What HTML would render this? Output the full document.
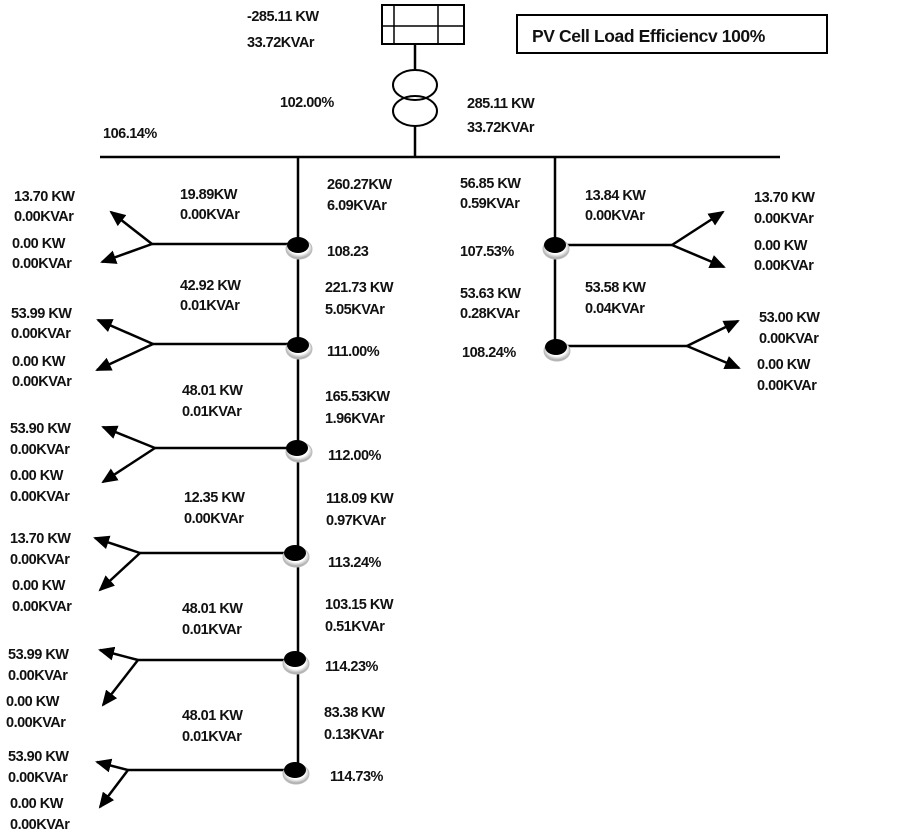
<!DOCTYPE html>
<html><head><meta charset="utf-8"><style>
html,body{margin:0;padding:0;background:#fff;}
svg text{font-family:"Liberation Sans",sans-serif;font-weight:bold;font-size:14.5px;fill:#111;letter-spacing:-0.5px;}
</style></head><body>
<svg width="902" height="835" viewBox="0 0 902 835" xmlns="http://www.w3.org/2000/svg">
<defs>
<marker id="a" markerWidth="16" markerHeight="14" refX="14" refY="7" orient="auto" markerUnits="userSpaceOnUse">
<path d="M0,0 L16,7 L0,14 z" fill="#000"/></marker>
<radialGradient id="g" cx="50%" cy="40%" r="60%"><stop offset="0.6" stop-color="#fff"/><stop offset="1" stop-color="#999"/></radialGradient>
</defs>
<g stroke="#000" stroke-width="2.5" fill="none">
<rect x="382" y="5" width="82" height="39" stroke-width="2"/>
<line x1="382" y1="26" x2="464" y2="26" stroke-width="1.5"/>
<line x1="394" y1="5" x2="394" y2="44" stroke-width="1.5"/>
<line x1="438" y1="5" x2="438" y2="44" stroke-width="1.5"/>
<line x1="415" y1="44" x2="415" y2="70"/>
<ellipse cx="415" cy="85" rx="22" ry="15" stroke-width="2"/>
<ellipse cx="415" cy="111" rx="22" ry="15" stroke-width="2"/>
<line x1="415" y1="126" x2="415" y2="157"/>
<line x1="100" y1="157" x2="780" y2="157"/>
<line x1="298" y1="157" x2="298" y2="770"/>
<line x1="555" y1="157" x2="555" y2="346"/>
<rect x="517" y="15" width="310" height="38" stroke-width="2"/>
</g>
<g stroke="#000" stroke-width="2.5" fill="none">
<path d="M298,244 H152"/>
<path d="M298,344 H153"/>
<path d="M298,448 H155"/>
<path d="M298,553 H140"/>
<path d="M298,660 H138"/>
<path d="M298,770 H128"/>
<path d="M555,245 H672"/>
<path d="M555,346 H687"/>
</g>
<g stroke="#000" stroke-width="2.5" marker-end="url(#a)">
<line x1="152" y1="244" x2="111" y2="212"/>
<line x1="152" y1="244" x2="102" y2="262"/>
<line x1="153" y1="344" x2="98" y2="320"/>
<line x1="153" y1="344" x2="97" y2="370"/>
<line x1="155" y1="448" x2="103" y2="427"/>
<line x1="155" y1="448" x2="103" y2="482"/>
<line x1="140" y1="553" x2="95" y2="538"/>
<line x1="140" y1="553" x2="100" y2="590"/>
<line x1="138" y1="660" x2="100" y2="650"/>
<line x1="138" y1="660" x2="103" y2="705"/>
<line x1="128" y1="770" x2="97" y2="762"/>
<line x1="128" y1="770" x2="100" y2="807"/>
<line x1="672" y1="245" x2="723" y2="212"/>
<line x1="672" y1="245" x2="724" y2="267"/>
<line x1="687" y1="346" x2="738" y2="321"/>
<line x1="687" y1="346" x2="739" y2="368"/>
</g>
<g>
<ellipse cx="299" cy="249" rx="13" ry="10" fill="url(#g)" stroke="#bbb"/><ellipse cx="298" cy="245" rx="11" ry="8" fill="#000"/>
<ellipse cx="299" cy="349" rx="13" ry="10" fill="url(#g)" stroke="#bbb"/><ellipse cx="298" cy="345" rx="11" ry="8" fill="#000"/>
<ellipse cx="299" cy="452" rx="13" ry="10" fill="url(#g)" stroke="#bbb"/><ellipse cx="297" cy="448" rx="11" ry="8" fill="#000"/>
<ellipse cx="296" cy="557" rx="13" ry="10" fill="url(#g)" stroke="#bbb"/><ellipse cx="295" cy="553" rx="11" ry="8" fill="#000"/>
<ellipse cx="296" cy="664" rx="13" ry="10" fill="url(#g)" stroke="#bbb"/><ellipse cx="295" cy="659" rx="11" ry="8" fill="#000"/>
<ellipse cx="296" cy="774" rx="13" ry="10" fill="url(#g)" stroke="#bbb"/><ellipse cx="295" cy="770" rx="11" ry="8" fill="#000"/>
<ellipse cx="556" cy="249" rx="13" ry="10" fill="url(#g)" stroke="#bbb"/><ellipse cx="555" cy="245" rx="11" ry="8" fill="#000"/>
<ellipse cx="557" cy="351" rx="13" ry="10" fill="url(#g)" stroke="#bbb"/><ellipse cx="556" cy="347" rx="11" ry="8" fill="#000"/>
</g>
<text x="532" y="42" style="font-size:17.5px;letter-spacing:-0.4px">PV Cell Load Efficiencv 100%</text>
<text x="247" y="21">-285.11 KW</text><text x="247" y="47">33.72KVAr</text>
<text x="280" y="107">102.00%</text>
<text x="467" y="108">285.11 KW</text><text x="467" y="132">33.72KVAr</text>
<text x="103" y="138">106.14%</text>
<text x="327" y="189">260.27KW</text><text x="327" y="210">6.09KVAr</text>
<text x="327" y="256">108.23</text>
<text x="325" y="292">221.73 KW</text><text x="325" y="314">5.05KVAr</text>
<text x="327" y="356">111.00%</text>
<text x="325" y="401">165.53KW</text><text x="325" y="423">1.96KVAr</text>
<text x="328" y="460">112.00%</text>
<text x="326" y="503">118.09 KW</text><text x="326" y="525">0.97KVAr</text>
<text x="328" y="567">113.24%</text>
<text x="325" y="609">103.15 KW</text><text x="325" y="631">0.51KVAr</text>
<text x="325" y="671">114.23%</text>
<text x="324" y="717">83.38 KW</text><text x="324" y="739">0.13KVAr</text>
<text x="330" y="781">114.73%</text>
<text x="180" y="199">19.89KW</text><text x="180" y="219">0.00KVAr</text>
<text x="180" y="290">42.92 KW</text><text x="180" y="310">0.01KVAr</text>
<text x="182" y="395">48.01 KW</text><text x="182" y="416">0.01KVAr</text>
<text x="184" y="502">12.35 KW</text><text x="184" y="523">0.00KVAr</text>
<text x="182" y="613">48.01 KW</text><text x="182" y="634">0.01KVAr</text>
<text x="182" y="720">48.01 KW</text><text x="182" y="741">0.01KVAr</text>
<text x="14" y="201">13.70 KW</text><text x="14" y="221">0.00KVAr</text>
<text x="12" y="248">0.00 KW</text><text x="12" y="268">0.00KVAr</text>
<text x="11" y="318">53.99 KW</text><text x="11" y="338">0.00KVAr</text>
<text x="12" y="366">0.00 KW</text><text x="12" y="386">0.00KVAr</text>
<text x="10" y="433">53.90 KW</text><text x="10" y="454">0.00KVAr</text>
<text x="10" y="480">0.00 KW</text><text x="10" y="501">0.00KVAr</text>
<text x="10" y="543">13.70 KW</text><text x="10" y="564">0.00KVAr</text>
<text x="12" y="590">0.00 KW</text><text x="12" y="611">0.00KVAr</text>
<text x="8" y="659">53.99 KW</text><text x="8" y="680">0.00KVAr</text>
<text x="6" y="706">0.00 KW</text><text x="6" y="727">0.00KVAr</text>
<text x="8" y="761">53.90 KW</text><text x="8" y="782">0.00KVAr</text>
<text x="10" y="808">0.00 KW</text><text x="10" y="829">0.00KVAr</text>
<text x="460" y="188">56.85 KW</text><text x="460" y="208">0.59KVAr</text>
<text x="460" y="256">107.53%</text>
<text x="460" y="298">53.63 KW</text><text x="460" y="318">0.28KVAr</text>
<text x="462" y="357">108.24%</text>
<text x="585" y="200">13.84 KW</text><text x="585" y="220">0.00KVAr</text>
<text x="585" y="292">53.58 KW</text><text x="585" y="313">0.04KVAr</text>
<text x="754" y="202">13.70 KW</text><text x="754" y="223">0.00KVAr</text>
<text x="754" y="250">0.00 KW</text><text x="754" y="270">0.00KVAr</text>
<text x="759" y="322">53.00 KW</text><text x="759" y="343">0.00KVAr</text>
<text x="757" y="369">0.00 KW</text><text x="757" y="390">0.00KVAr</text>
</svg>
</body></html>
